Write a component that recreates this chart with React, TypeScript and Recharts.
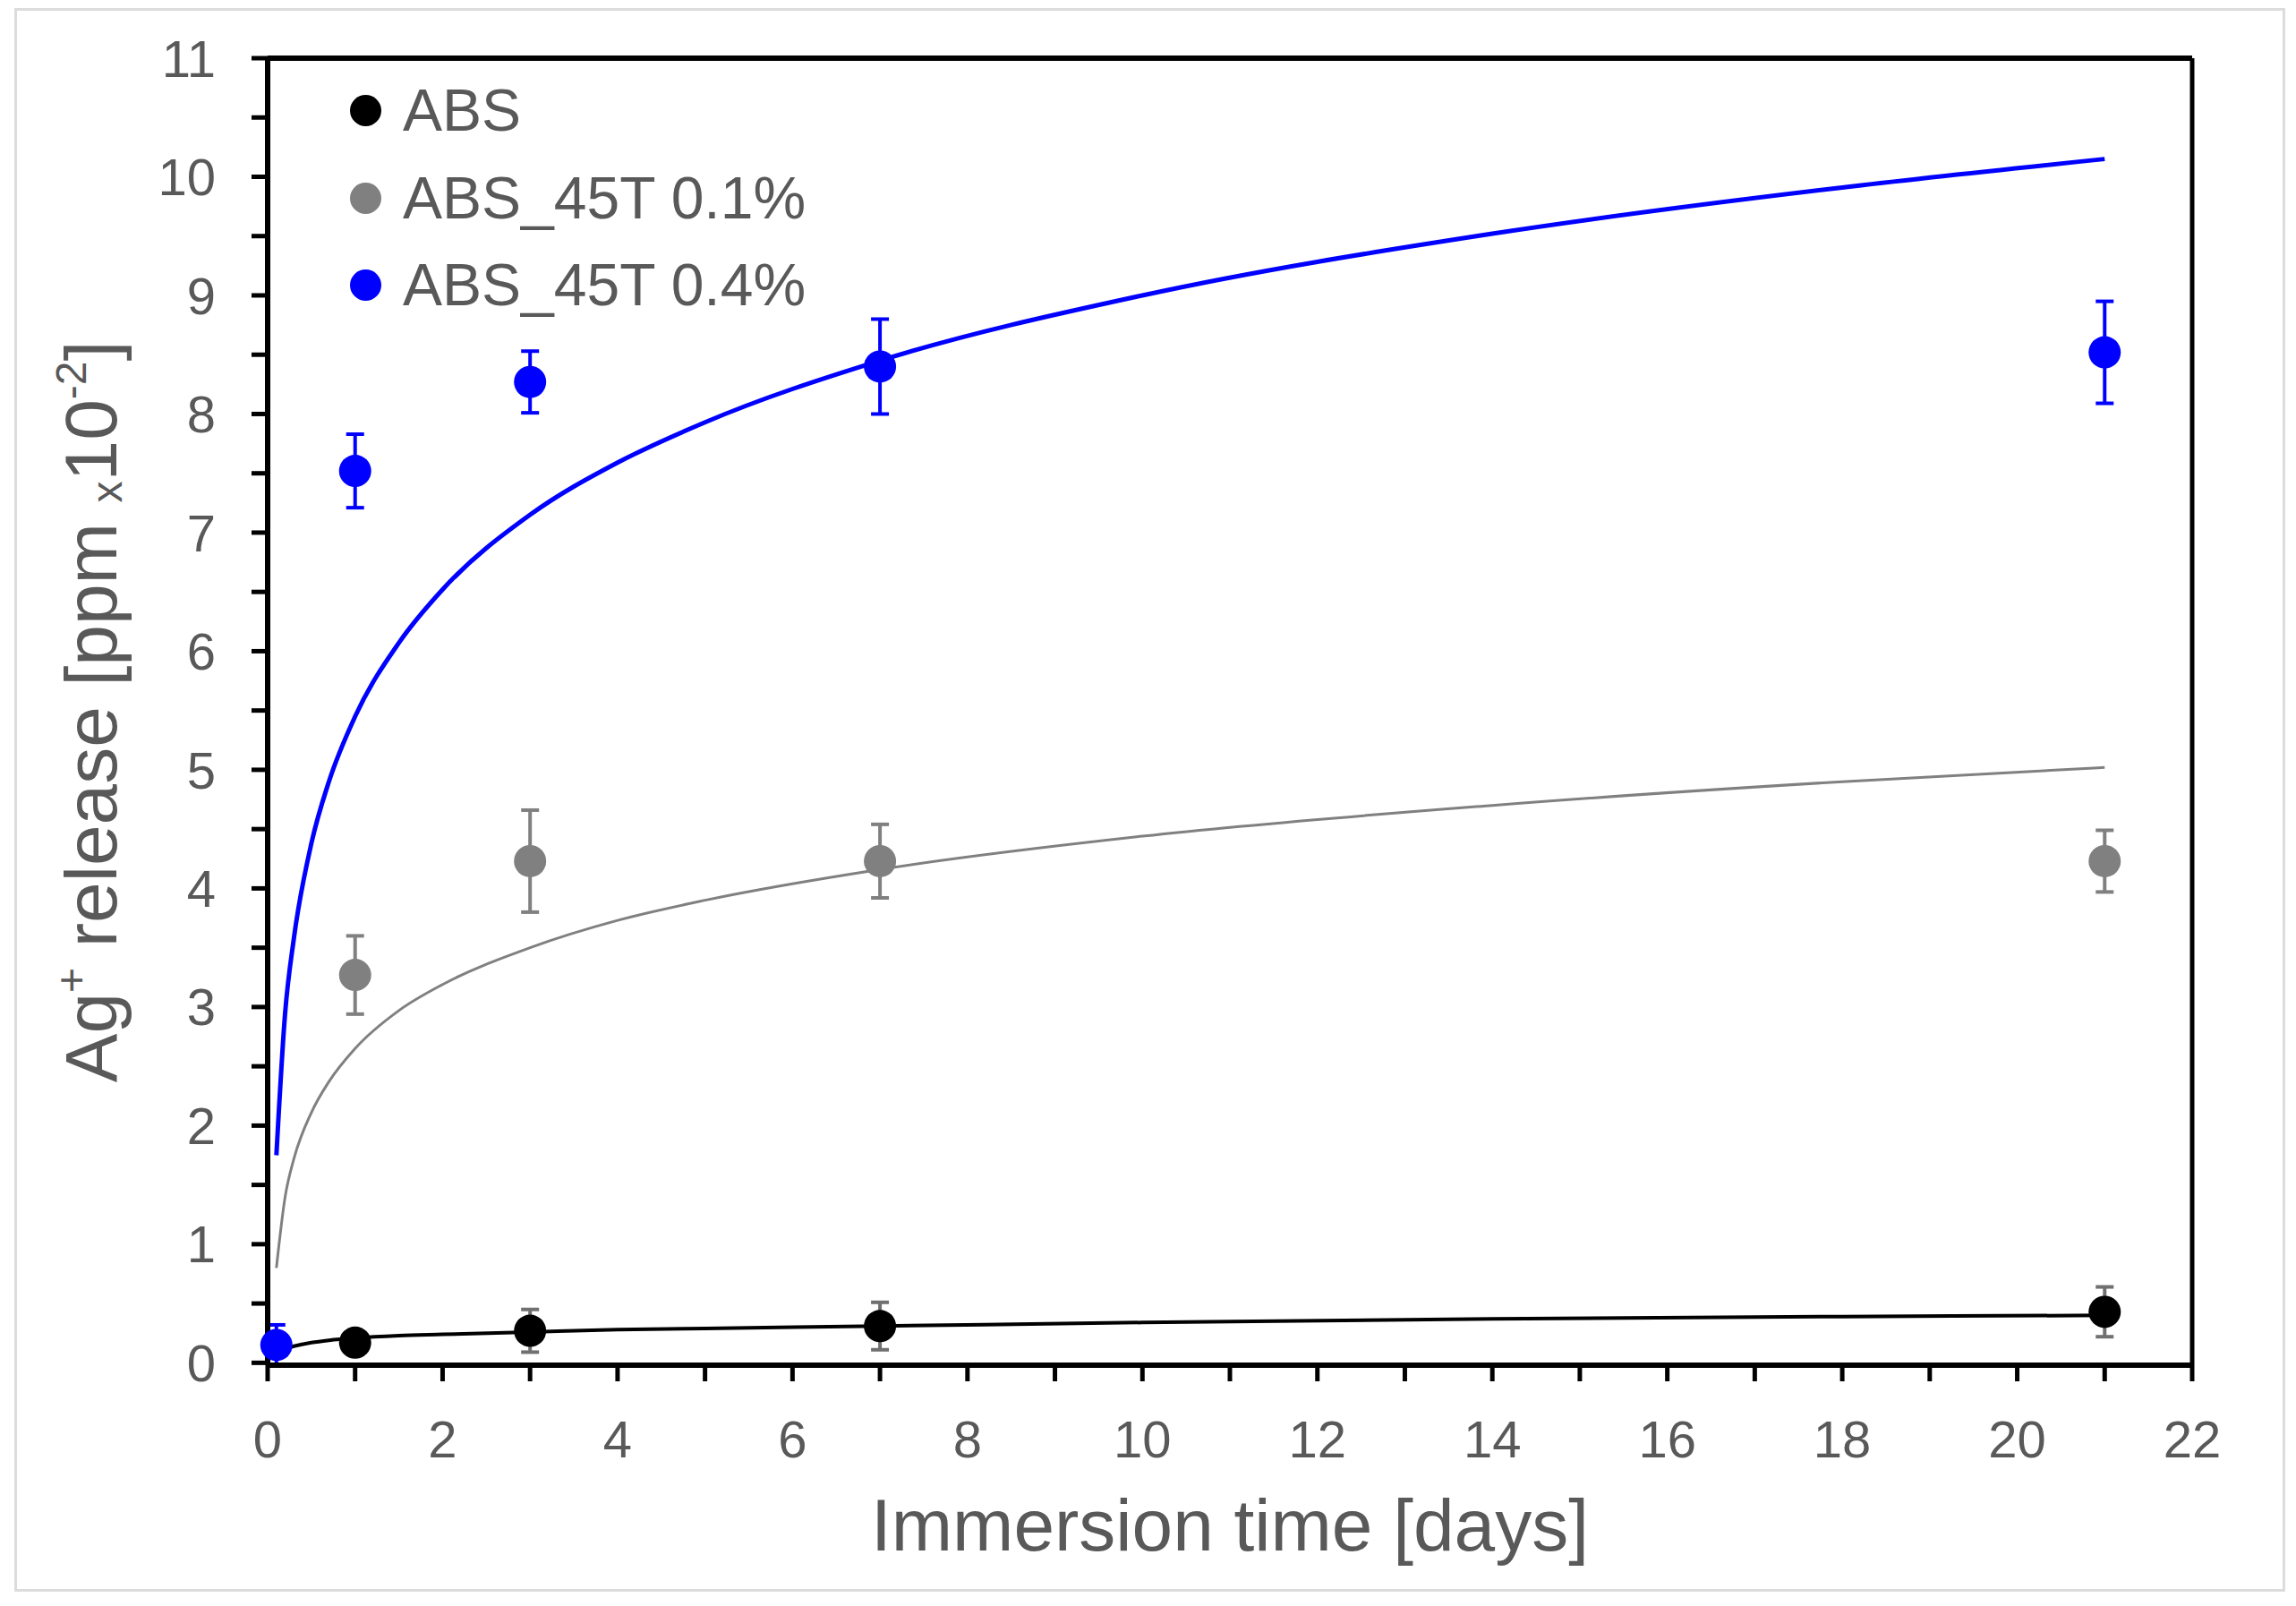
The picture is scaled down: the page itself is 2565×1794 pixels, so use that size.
import React from 'react';
import { ComposedChart, XAxis, YAxis, Scatter, Line, ErrorBar, ReferenceLine, Legend } from 'recharts';

const FONT = '"Liberation Sans", Arial, sans-serif';
const TEXT = '#595959';

const seriesNames = ['ABS', 'ABS_45T 0.1%', 'ABS_45T 0.4%'];
const seriesColors = ['#000000', '#808080', '#0000ff'];

// measured points (days, mean, error)
const absDays = [1, 3, 7, 21];
const absMean = [0.17, 0.27, 0.31, 0.43];
const absErr = [0.06, 0.18, 0.2, 0.21];

const t01Days = [1, 3, 7, 21];
const t01Mean = [3.27, 4.23, 4.23, 4.23];
const t01Err = [0.33, 0.43, 0.31, 0.26];

const t04Days = [0.1, 1, 3, 7, 21];
const t04Mean = [0.15, 7.52, 8.27, 8.4, 8.52];
const t04Err = [0.17, 0.31, 0.26, 0.4, 0.43];

// fitted curves
const fitDays = [0.1, 0.2, 0.3, 0.5, 0.7, 1, 1.5, 2, 3, 4, 5, 7, 10, 14, 18, 21];
const absFit = [0.09, 0.12, 0.14, 0.17, 0.19, 0.21, 0.23, 0.24, 0.26, 0.28, 0.29, 0.31, 0.34, 0.37, 0.39, 0.4];
const t01Fit = [0.8, 1.4, 1.72, 2.11, 2.37, 2.65, 2.97, 3.19, 3.5, 3.73, 3.9, 4.16, 4.44, 4.7, 4.9, 5.02];
const t04Fit = [1.75, 2.95, 3.58, 4.38, 4.9, 5.45, 6.07, 6.52, 7.15, 7.59, 7.93, 8.45, 9.0, 9.52, 9.91, 10.15];

const xTicks = [0, 1, 2, 3, 4, 5, 6, 7, 8, 9, 10, 11, 12, 13, 14, 15, 16, 17, 18, 19, 20, 21, 22];
const yTicks = [0, 0.5, 1, 1.5, 2, 2.5, 3, 3.5, 4, 4.5, 5, 5.5, 6, 6.5, 7, 7.5, 8, 8.5, 9, 9.5, 10, 10.5, 11];

const pts = (xs: number[], ys: number[], es?: number[]) =>
  xs.map((x, i) => ({ x, y: ys[i], err: es ? es[i] : 0 }));

const absPts = pts(absDays, absMean, absErr);
const t01Pts = pts(t01Days, t01Mean, t01Err);
const t04Pts = pts(t04Days, t04Mean, t04Err);
const absCurve = pts(fitDays, absFit);
const t01Curve = pts(fitDays, t01Fit);
const t04Curve = pts(fitDays, t04Fit);

const dot = (color: string) => (p: any) => <circle cx={p.cx} cy={p.cy} r={18} fill={color} />;

const XTitle = (props: any) => {
  const vb = props.viewBox || {};
  return (
    <text x={vb.x + vb.width / 2} y={vb.y + 207} textAnchor="middle" fontSize={82} fontFamily={FONT} fill={TEXT}>
      Immersion time [days]
    </text>
  );
};

const YTitle = (props: any) => {
  const vb = props.viewBox || {};
  const x = vb.x + 113;
  const y = vb.y + vb.height / 2;
  return (
    <text x={x} y={y} transform={`rotate(-90, ${x}, ${y})`} textAnchor="middle" fontSize={82} fontFamily={FONT} fill={TEXT}>
      <tspan>Ag</tspan>
      <tspan fontSize={48} dy={-34}>+</tspan>
      <tspan dy={34}> release [ppm </tspan>
      <tspan fontSize={48} dy={6}>x</tspan>
      <tspan dy={-6}>10</tspan>
      <tspan fontSize={48} dy={-34}>-2</tspan>
      <tspan dy={34}>]</tspan>
    </text>
  );
};

const LegendBox = () => (
  <div style={{ fontFamily: FONT }}>
    {seriesNames.map((n, i) => (
      <div key={n} style={{ display: 'flex', alignItems: 'center', height: 97.5 }}>
        <div style={{ width: 35, height: 35, borderRadius: '50%', background: seriesColors[i], marginLeft: 11 }} />
        <span style={{ marginLeft: 24, fontSize: 66, color: TEXT, lineHeight: '97.5px', whiteSpace: 'nowrap' }}>{n}</span>
      </div>
    ))}
  </div>
);

export default function App() {
  return (
    <div style={{ position: 'absolute', left: 0, top: 0, width: 2565, height: 1794, background: '#fff' }}>
      <div
        style={{
          position: 'absolute',
          left: 16,
          top: 9,
          width: 2537,
          height: 1769,
          border: '3px solid #dcdcdc',
          boxSizing: 'border-box',
        }}
      />
      <div style={{ position: 'absolute', left: 0, top: 0 }}>
        <ComposedChart width={2565} height={1794} margin={{ top: 65, right: 116, bottom: 29, left: 17 }}>
          <XAxis
            dataKey="x"
            type="number"
            domain={[0, 22]}
            ticks={xTicks}
            interval={0}
            height={240}
            tickSize={18}
            tickMargin={44}
            tickFormatter={(v: number) => (v % 2 === 0 ? String(v) : '')}
            tick={{ fill: TEXT, fontSize: 58, fontFamily: FONT }}
            tickLine={{ stroke: '#000', strokeWidth: 5 }}
            axisLine={{ stroke: '#000', strokeWidth: 6 }}
            label={<XTitle />}
          />
          <YAxis
            type="number"
            domain={[0, 11]}
            ticks={yTicks}
            interval={0}
            width={282}
            tickSize={18}
            tickMargin={40}
            tickFormatter={(v: number) => (Number.isInteger(v) ? String(v) : '')}
            tick={{ fill: TEXT, fontSize: 58, fontFamily: FONT }}
            tickLine={{ stroke: '#000', strokeWidth: 5 }}
            axisLine={{ stroke: '#000', strokeWidth: 6 }}
            label={<YTitle />}
          />
          <ReferenceLine y={11} stroke="#000" strokeWidth={6} />
          <ReferenceLine x={22} stroke="#000" strokeWidth={5} />
          <Scatter name={seriesNames[1]} data={t01Pts} dataKey="y" fill={seriesColors[1]} shape={dot(seriesColors[1])} isAnimationActive={false}>
            <ErrorBar dataKey="err" direction="y" width={10} stroke="#808080" strokeWidth={4} />
          </Scatter>
          <Scatter name={seriesNames[0]} data={absPts} dataKey="y" fill={seriesColors[0]} shape={dot(seriesColors[0])} isAnimationActive={false}>
            <ErrorBar dataKey="err" direction="y" width={10} stroke="#707070" strokeWidth={4} />
          </Scatter>
          <Scatter name={seriesNames[2]} data={t04Pts} dataKey="y" fill={seriesColors[2]} shape={dot(seriesColors[2])} isAnimationActive={false}>
            <ErrorBar dataKey="err" direction="y" width={10} stroke="#0000ff" strokeWidth={4} />
          </Scatter>
          <Line data={t01Curve} dataKey="y" type="monotone" stroke="#808080" strokeWidth={3} dot={false} activeDot={false} legendType="none" isAnimationActive={false} />
          <Line data={t04Curve} dataKey="y" type="monotone" stroke="#0000ff" strokeWidth={5} dot={false} activeDot={false} legendType="none" isAnimationActive={false} />
          <Line data={absCurve} dataKey="y" type="monotone" stroke="#000000" strokeWidth={4} dot={false} activeDot={false} legendType="none" isAnimationActive={false} />
          <Legend
            layout="vertical"
            align="center"
            verticalAlign="middle"
            wrapperStyle={{ left: 380, top: 75, width: 700, height: 300 }}
            content={() => <LegendBox />}
          />
        </ComposedChart>
      </div>
    </div>
  );
}
